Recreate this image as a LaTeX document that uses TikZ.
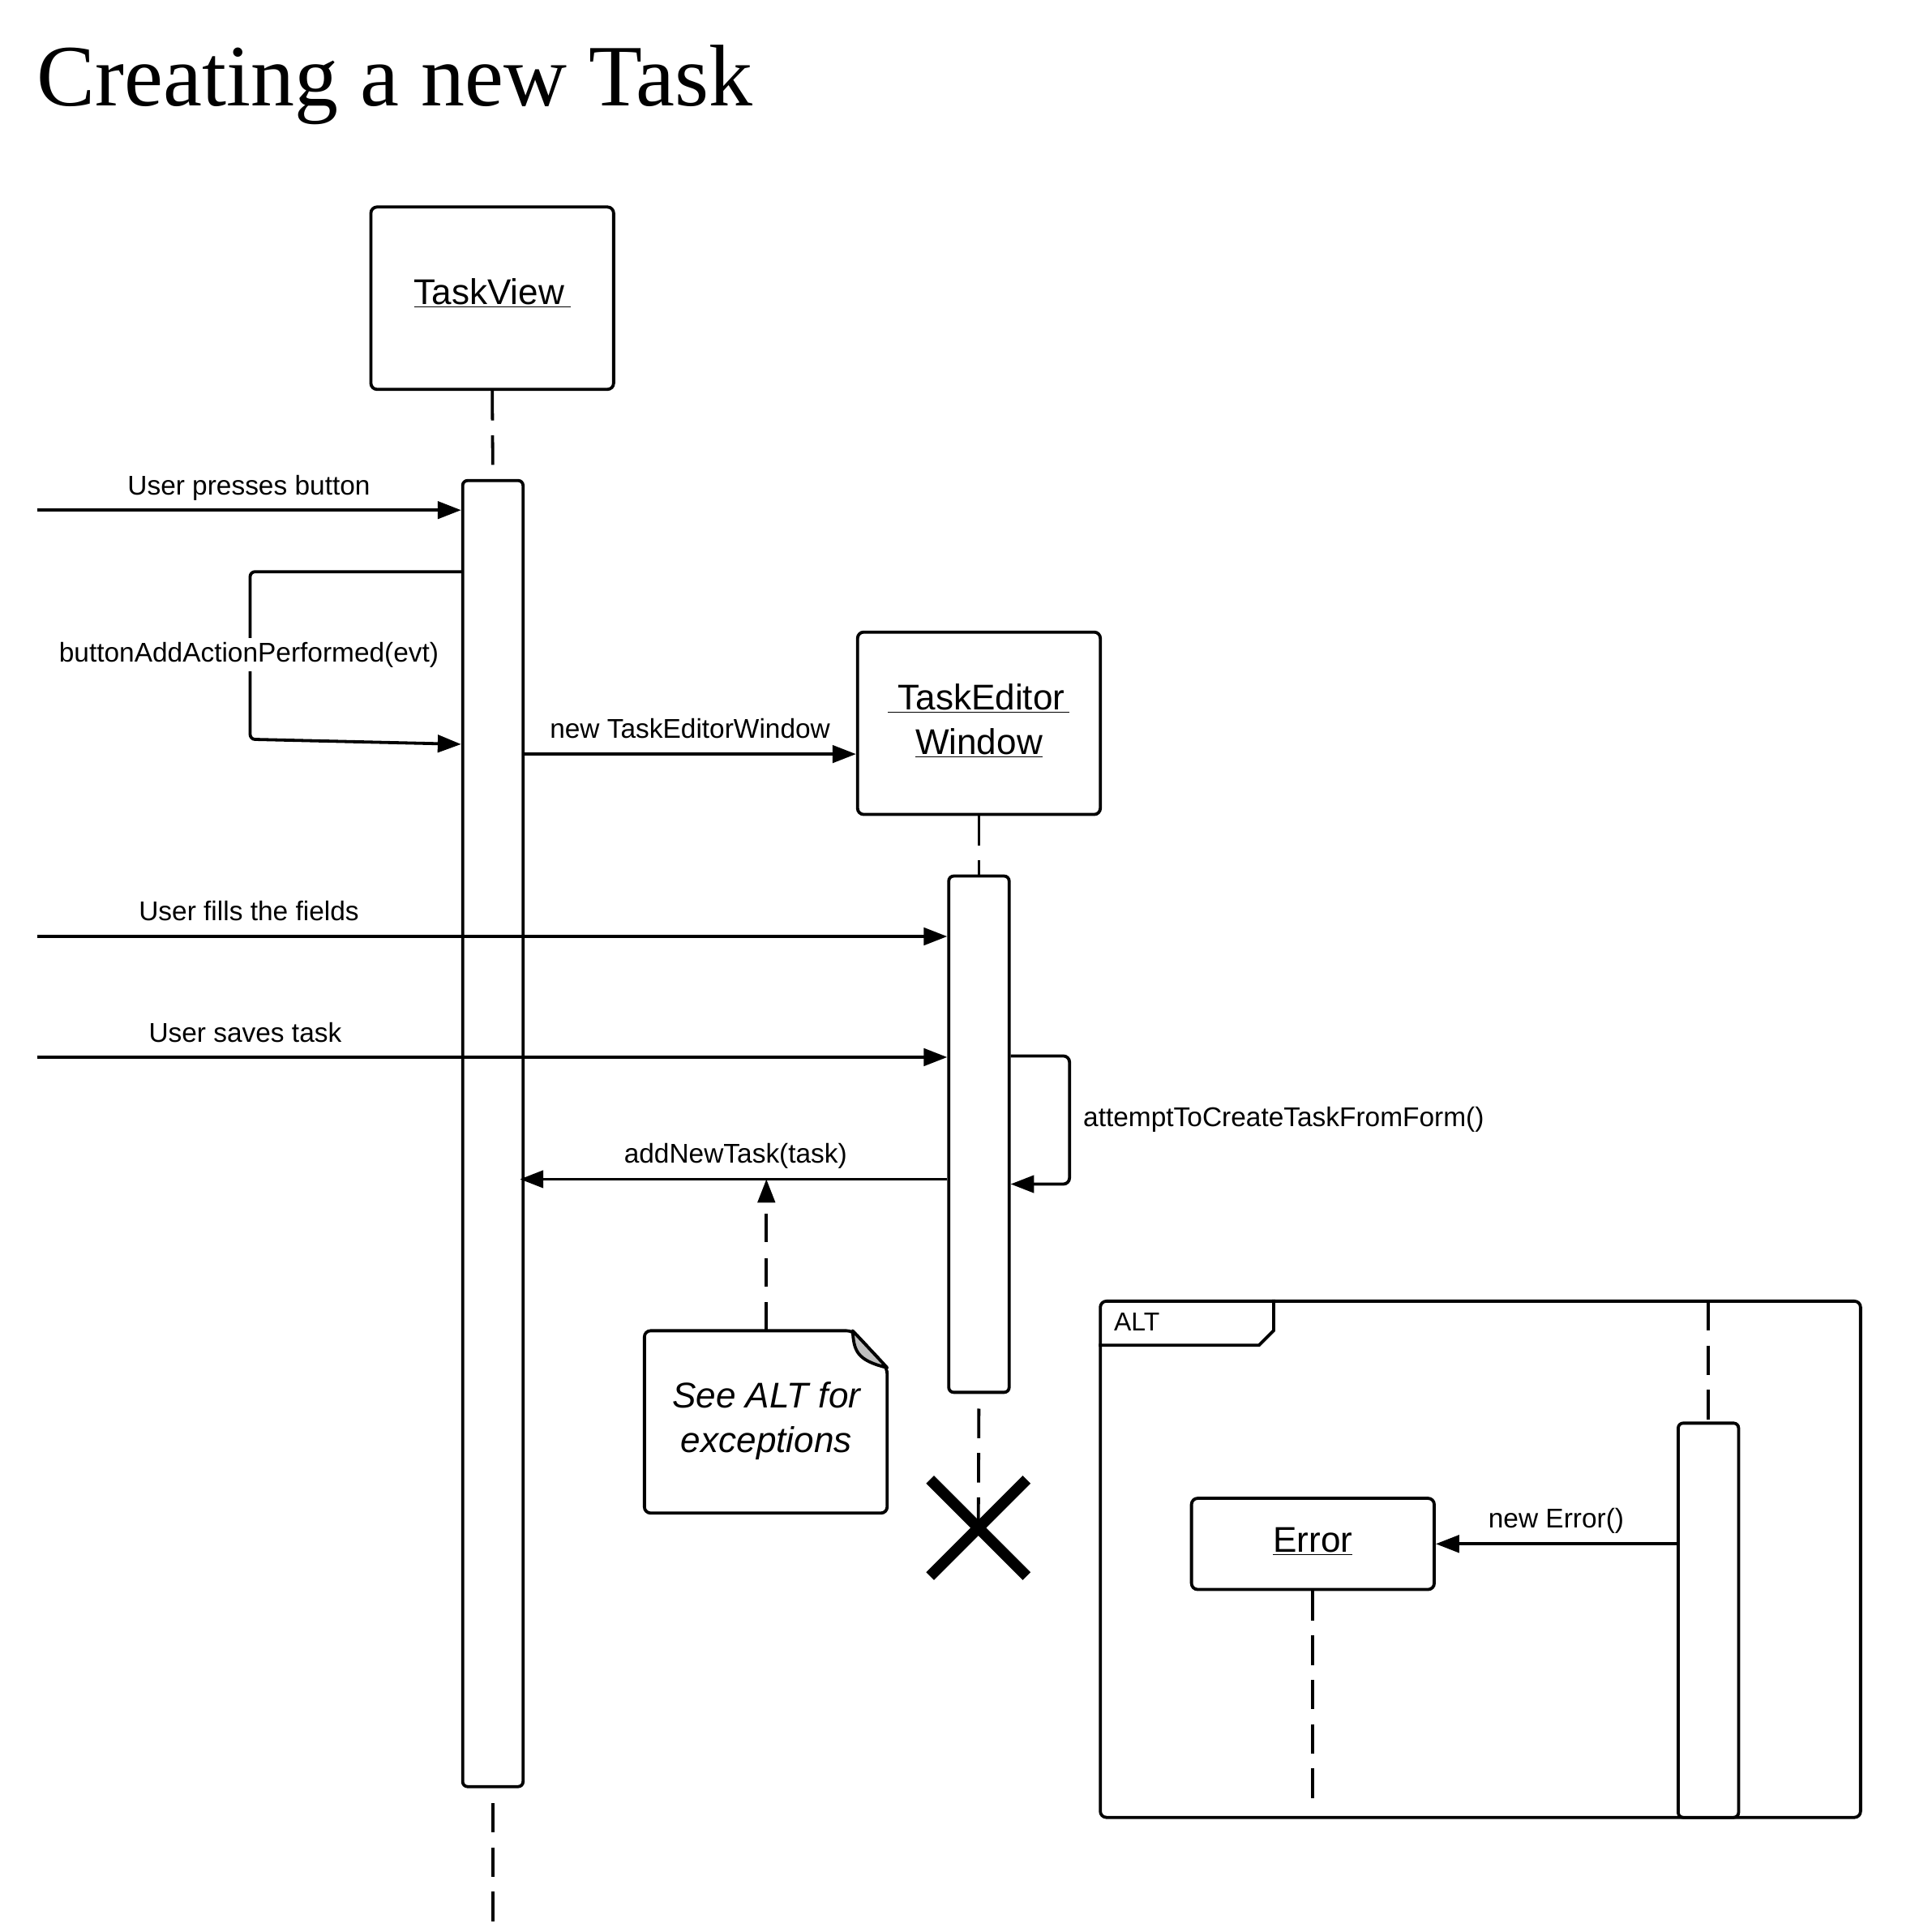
\documentclass[tikz,border=0pt]{standalone}
\usepackage{fontspec}
\setmainfont{Liberation Sans}
\newfontfamily\titlefont{Liberation Serif}
\usetikzlibrary{arrows.meta}
\begin{document}
\begin{tikzpicture}[x=1pt,y=-1pt,
  lw/.style={line width=2.5pt},
  objbox/.style={draw,lw,rounded corners=5pt,fill=white,minimum width=197pt,inner sep=0pt},
  actbar/.style={draw,lw,rounded corners=4pt,fill=white,minimum width=49pt,inner sep=0pt},
  msg/.style={lw,-{Triangle[length=19pt,width=14pt]}},
  lifeline/.style={lw,dash pattern=on 24pt off 12pt},
  lifelinegap/.style={lw,dash pattern=on 24pt off 12pt,dash phase=24pt},
  lbl/.style={font=\fontsize{22}{26}\selectfont,inner sep=1pt,anchor=base},
  objtext/.style={font=\fontsize{29}{36}\selectfont,align=center},
]
\fill[white] (0,0) rectangle (1568,1568);
\useasboundingbox (0,0) rectangle (1568,1568);

% title
\node[anchor=base west,inner sep=0pt,font=\titlefont\fontsize{71}{80}\selectfont] (title) at (30,86) {Creating a new Task};

% TaskView
\node[objbox,minimum height=148pt] (tv) at (399.5,242) {};
\node[objtext,inner sep=0pt] (tvt) at (399.5,238) {\underline{TaskView\hspace{5pt}}};
\node[actbar,minimum height=1060pt] (tvbar) at (400,920) {};
\coordinate (tvend) at (400,1568);
\draw[lifeline] (tv.south) -- (tvbar.north);
\draw[lifelinegap] (tvbar.south) -- (tvend);

% TaskEditorWindow
\node[objbox,minimum height=148pt] (te) at (794.5,587) {};
\node[objtext,inner sep=0pt] (tet) at (794.5,585) {\underline{\hspace{8pt}TaskEditor\hspace{4pt}}\\\underline{Window}};
\node[actbar,minimum height=419pt] (tebar) at (794.5,920.5) {};
\draw[lifeline] (te.south) -- (tebar.north);
\node[minimum size=78pt,inner sep=0pt] (xd) at (794,1240) {};
\draw[lifelinegap] (tebar.south) -- (xd.center);
\draw[line width=9pt] (xd.north west) -- (xd.south east) (xd.north east) -- (xd.south west);

% messages
\coordinate (u1) at (30,414);
\draw[msg] (u1) -- (u1 -| tvbar.west);
\node[lbl] (l1) at (202,402) {User presses button};

\coordinate (b1) at (203,464);
\coordinate (b2) at (203,600);
\coordinate (b3) at (0,604);
\draw[msg,rounded corners=4pt] (b1 -| tvbar.west) -- (b1) -- (b2) -- (b3 -| tvbar.west);
\node[lbl,fill=white,inner sep=3pt] (l2) at (202,537) {buttonAddActionPerformed(evt)};

\coordinate (m1) at (0,612);
\draw[msg] (m1 -| tvbar.east) -- (m1 -| te.west);
\node[lbl] (l3) at (560,599) {new TaskEditorWindow};

\coordinate (f1) at (30,760);
\draw[msg] (f1) -- (f1 -| tebar.west);
\node[lbl] (l4) at (202,747) {User fills the fields};

\coordinate (s1) at (30,858);
\draw[msg] (s1) -- (s1 -| tebar.west);
\node[lbl] (l5) at (199,846) {User saves task};

\coordinate (a1) at (868,857);
\coordinate (a2) at (868,961);
\draw[msg,rounded corners=5pt] (a1 -| tebar.east) -- (a1) -- (a2) -- (a2 -| tebar.east);
\node[lbl,anchor=base west] (l6) at (878,914) {attemptToCreateTaskFromForm()};

\coordinate (n1) at (0,957);
\coordinate (n2) at (422,957);
\draw[msg] (n1 -| tebar.west) -- (n2);
\node[lbl] (l7) at (597,944) {addNewTask(task)};

% note
\coordinate (ntop) at (622,1080);
\draw[lw,rounded corners=5pt,fill=white] (523,1080) -- (692,1080) -- (720,1110) -- (720,1228) -- (523,1228) -- cycle;
\filldraw[lw,fill=black!25,line join=round] (692,1080) .. controls (693,1096) and (695,1104) .. (720,1110) -- cycle;
\node[objtext,font=\itshape\fontsize{29}{36}\selectfont] (nt) at (622,1153) {See ALT for\\exceptions};
\draw[msg,dash pattern=on 23pt off 13pt] (ntop) -- (ntop |- n1);

% ALT frame
\node[draw,lw,rounded corners=5pt,minimum width=617pt,minimum height=419pt,inner sep=0pt] (alt) at (1201.5,1265.5) {};
\draw[lw] ([xshift=142pt]alt.north west) -- ++(0,25) -- ++(-12,12) -- ++(-130,0);
\node[lbl,anchor=base west,font=\fontsize{21}{25}\selectfont] (altl) at (903,1080) {ALT};
\coordinate (altlt) at (1386.5,1056);
\node[actbar,minimum height=320pt] (altbar) at (1386.5,1315) {};
\draw[lifeline] (altlt) -- (altbar.north);

\node[objbox,minimum height=74pt] (err) at (1065.5,1253) {};
\node[objtext,inner sep=0pt] (errt) at (1065.5,1251) {\underline{Error}};
\coordinate (errend) at (1065.5,1463);
\draw[lifeline] (err.south) -- (errend);
\draw[msg] (err -| altbar.west) -- (err.east);
\node[lbl] (l8) at (1263,1240) {new Error()};

\end{tikzpicture}
\end{document}
